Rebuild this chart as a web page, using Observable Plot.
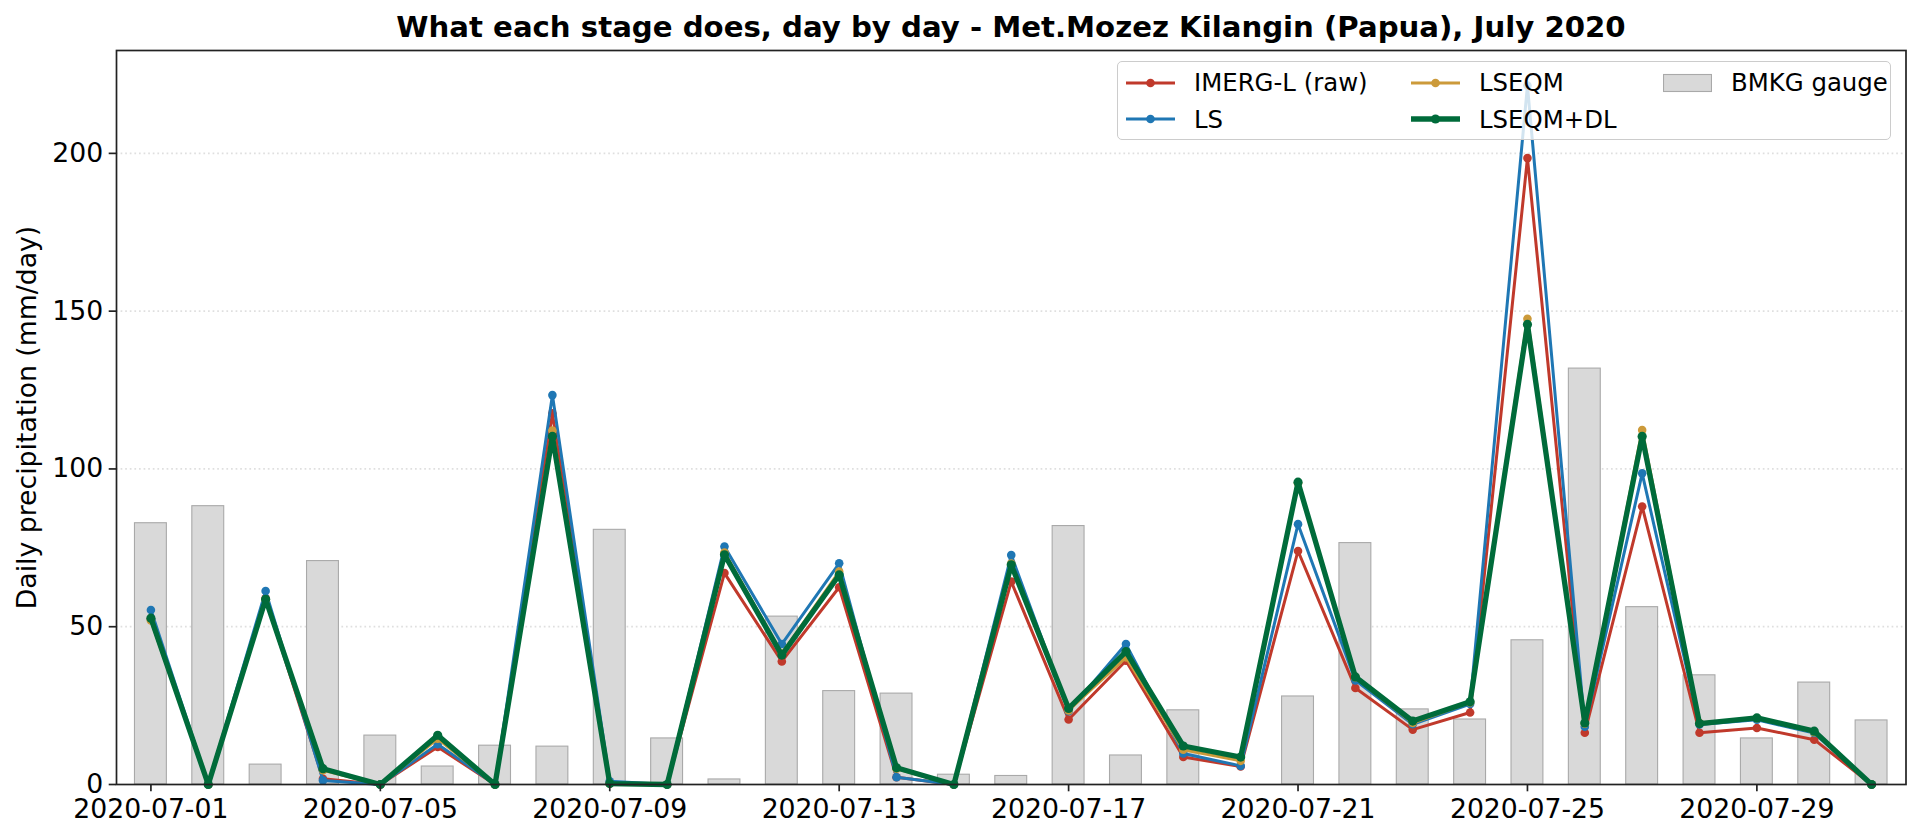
<!DOCTYPE html>
<html>
<head>
<meta charset="utf-8">
<script src="https://cdn.jsdelivr.net/npm/d3@7"></script>
<script src="https://cdn.jsdelivr.net/npm/@observablehq/plot@0.6"></script>
<style>
  html, body { margin: 0; padding: 0; background: #fff; }
  #wrap { position: relative; width: 1920px; height: 840px; font-family: "DejaVu Sans", sans-serif; overflow: hidden; }
  #title { position: relative; height: 46px; }
  #title span { position: absolute; left: 116px; width: 1790px; top: 13px; text-align: center;
    font-weight: bold; font-size: 29.2px; line-height: 29.2px; color: #000; white-space: nowrap; }
  #legend { position: absolute; left: 1117px; top: 61px; width: 772px; height: 77px;
    border: 1.6px solid #cccccc; border-radius: 5px; background: rgba(255,255,255,0.8); box-sizing: content-box; }
  .item { position: absolute; height: 30px; display: flex; align-items: center; font-size: 24.4px; color: #000; white-space: nowrap; }
  .item svg { display: block; margin-right: 19px; }
  #chart svg { display: block; }
</style>
</head>
<body>
<div id="wrap">
  <div id="title"><span id="titleText"></span></div>
  <div id="chart"></div>
  <div id="legend"></div>
</div>
<script>
const titleText = "What each stage does, day by day - Met.Mozez Kilangin (Papua), July 2020";
const yLabel = "Daily precipitation (mm/day)";

const dates = ["2020-07-01","2020-07-02","2020-07-03","2020-07-04","2020-07-05","2020-07-06","2020-07-07","2020-07-08",
  "2020-07-09","2020-07-10","2020-07-11","2020-07-12","2020-07-13","2020-07-14","2020-07-15","2020-07-16",
  "2020-07-17","2020-07-18","2020-07-19","2020-07-20","2020-07-21","2020-07-22","2020-07-23","2020-07-24",
  "2020-07-25","2020-07-26","2020-07-27","2020-07-28","2020-07-29","2020-07-30","2020-07-31"];

const gauge   = [82.8, 88.2, 6.3, 70.8, 15.5, 5.7, 12.3, 12.0, 80.7, 14.6, 1.6, 53.2, 29.6, 28.8, 3.1, 2.7,
                 81.9, 9.2, 23.5, 0, 27.9, 76.5, 23.8, 20.6, 45.7, 131.8, 56.2, 34.6, 14.6, 32.3, 20.3];
const imerg   = [52.5, 0, 59.0, 1.8, 0, 11.9, 0, 117.6, 0.3, 0, 67.0, 39.0, 62.5, 2.3, 0, 64.3,
                 20.6, 39.2, 8.7, 5.7, 74.0, 30.6, 17.4, 22.8, 198.5, 16.4, 88.1, 16.4, 17.9, 14.2, 0];
const ls      = [55.3, 0, 61.3, 1.3, 0, 12.8, 0, 123.4, 1.0, 0, 75.4, 44.5, 70.1, 2.3, 0, 72.7,
                 23.2, 44.5, 9.8, 5.9, 82.5, 33.0, 19.1, 25.5, 221.5, 18.3, 98.6, 19.0, 20.5, 16.3, 0];
const lseqm   = [52.0, 0, 58.5, 4.5, 0, 14.5, 0, 112.2, 0.3, 0, 73.5, 41.5, 67.5, 5.0, 0, 70.0,
                 23.5, 40.3, 11.0, 7.5, 95.5, 34.0, 19.5, 26.0, 147.6, 19.3, 112.3, 19.5, 21.0, 16.6, 0];
const lseqmDL = [52.7, 0, 58.7, 5.0, 0, 15.6, 0, 110.3, 0.3, 0, 72.8, 41.0, 66.4, 5.3, 0, 69.6,
                 24.1, 42.1, 12.2, 8.7, 95.8, 34.1, 20.1, 26.2, 145.8, 19.5, 110.3, 19.3, 21.1, 16.9, 0];

const xTicks = ["2020-07-01","2020-07-05","2020-07-09","2020-07-13","2020-07-17","2020-07-21","2020-07-25","2020-07-29"];
const yTicks = [0, 50, 100, 150, 200];

const seriesNames  = ["IMERG-L (raw)", "LS", "LSEQM", "LSEQM+DL"];
const seriesColors = ["#c0392b", "#1f77b4", "#cc9a3a", "#006b3a"];
const seriesWidths = [3.0, 3.0, 3.0, 5.3];
const seriesR      = [4.3, 4.3, 4.3, 4.6];
const seriesValues = [imerg, ls, lseqm, lseqmDL];
const gaugeName = "BMKG gauge";

const DAY = 864e5;
const rows = dates.map((d, i) => ({date: new Date(d), gauge: gauge[i]}));
const xDomain = [new Date(+new Date(dates[0]) - 0.6 * DAY), new Date(+new Date(dates[dates.length - 1]) + 0.6 * DAY)];
const half = 0.278 * DAY;

const lineMarks = [];
seriesNames.forEach((name, k) => {
  const data = dates.map((d, i) => ({date: new Date(d), value: seriesValues[k][i]}));
  lineMarks.push(Plot.line(data, {x: "date", y: "value", stroke: seriesColors[k], strokeWidth: seriesWidths[k], strokeLinejoin: "round"}));
  lineMarks.push(Plot.dot(data, {x: "date", y: "value", fill: seriesColors[k], r: seriesR[k], stroke: "none"}));
});

const chart = Plot.plot({
  width: 1920,
  height: 794,
  marginLeft: 116,
  marginRight: 14.5,
  marginTop: 4,
  marginBottom: 56,
  style: {fontFamily: "DejaVu Sans", fontSize: "26.7px", color: "#000", background: "#fff", overflow: "visible"},
  x: {type: "utc", domain: xDomain},
  y: {domain: [0, 232.6]},
  marks: [
    Plot.ruleY(yTicks.filter(v => v > 0), {stroke: "#b0b0b0", strokeOpacity: 0.4, strokeWidth: 1.7, strokeDasharray: "1.7,2.9"}),
    Plot.rectY(rows, {x1: d => new Date(+d.date - half), x2: d => new Date(+d.date + half), y1: 0, y2: "gauge",
      fill: "#d9d9d9", stroke: "#a9a9a9", strokeWidth: 1.1}),
    ...lineMarks,
    Plot.frame({stroke: "#222", strokeWidth: 1.7}),
    Plot.axisX({ticks: xTicks.map(d => new Date(d)), tickFormat: d3.utcFormat("%Y-%m-%d"), tickSize: 7.3, tickPadding: 7,
      strokeWidth: 1.7, stroke: "#222", fontSize: 26.7, label: null}),
    Plot.axisY({ticks: yTicks, tickSize: 7.3, tickPadding: 6, strokeWidth: 1.7, stroke: "#222", fontSize: 26.7, label: null}),
    Plot.text([yLabel], {frameAnchor: "left", rotate: -90, dx: -89, text: d => d, fontSize: 26.7, textAnchor: "middle", lineAnchor: "middle", fill: "#000"})
  ]
});
document.getElementById("chart").appendChild(chart);
document.getElementById("titleText").textContent = titleText;

// Legend (HTML overlay, translucent like the reference)
const legend = document.getElementById("legend");
const legendItems = [
  {name: seriesNames[0], color: seriesColors[0], w: seriesWidths[0], r: seriesR[0], left: 8, top: 5.5},
  {name: seriesNames[1], color: seriesColors[1], w: seriesWidths[1], r: seriesR[1], left: 8, top: 42},
  {name: seriesNames[2], color: seriesColors[2], w: seriesWidths[2], r: seriesR[2], left: 293, top: 5.5},
  {name: seriesNames[3], color: seriesColors[3], w: seriesWidths[3], r: seriesR[3], left: 293, top: 42},
  {name: gaugeName, patch: true, left: 545, top: 5.5}
];
const NS = "http://www.w3.org/2000/svg";
legendItems.forEach(it => {
  const div = document.createElement("div");
  div.className = "item";
  div.style.left = it.left + "px";
  div.style.top = it.top + "px";
  const svg = document.createElementNS(NS, "svg");
  svg.setAttribute("width", 49);
  svg.setAttribute("height", 30);
  if (it.patch) {
    const r = document.createElementNS(NS, "rect");
    r.setAttribute("x", 0.5); r.setAttribute("y", 6.5); r.setAttribute("width", 48); r.setAttribute("height", 17);
    r.setAttribute("fill", "#d9d9d9"); r.setAttribute("stroke", "#a9a9a9"); r.setAttribute("stroke-width", 1.1);
    svg.appendChild(r);
  } else {
    const l = document.createElementNS(NS, "line");
    l.setAttribute("x1", 0); l.setAttribute("x2", 49); l.setAttribute("y1", 15); l.setAttribute("y2", 15);
    l.setAttribute("stroke", it.color); l.setAttribute("stroke-width", it.w);
    svg.appendChild(l);
    const c = document.createElementNS(NS, "circle");
    c.setAttribute("cx", 24.5); c.setAttribute("cy", 15); c.setAttribute("r", it.r); c.setAttribute("fill", it.color);
    svg.appendChild(c);
  }
  div.appendChild(svg);
  const span = document.createElement("span");
  span.textContent = it.name;
  div.appendChild(span);
  legend.appendChild(div);
});
</script>
</body>
</html>
